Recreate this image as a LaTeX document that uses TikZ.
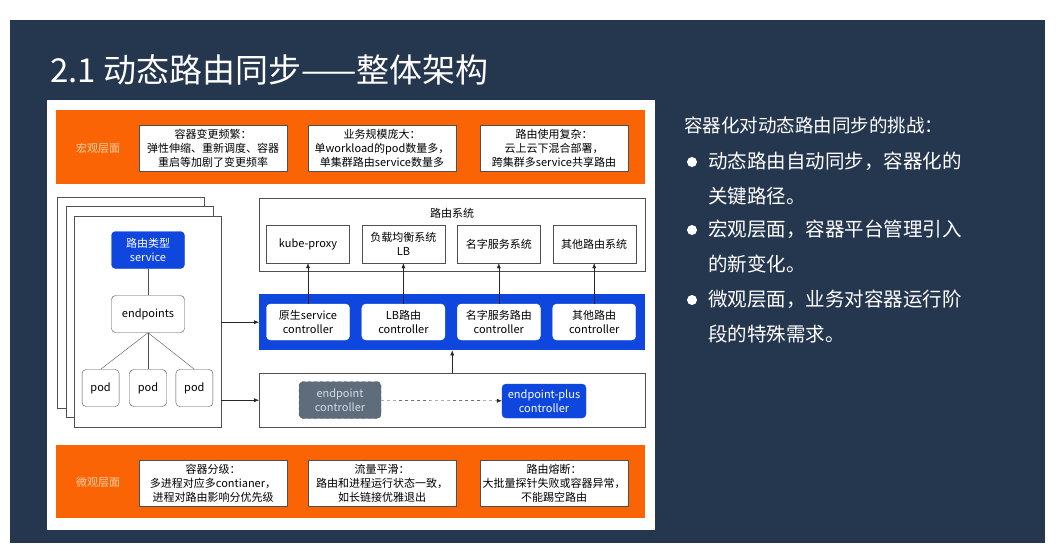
\documentclass[tikz,border=0pt]{standalone}
\usepackage{fontspec}
\setmainfont{Noto Sans CJK SC}
\usepackage{xcolor}
\definecolor{cNavy}{HTML}{25364F}
\definecolor{cOrange}{HTML}{FA6405}
\definecolor{cPeach}{HTML}{FFD2A8}
\definecolor{cBlue}{HTML}{0F46DE}
\definecolor{cGray}{HTML}{5F6C7B}
\definecolor{cGrayDark}{HTML}{48525E}
\definecolor{cGrayText}{HTML}{D5DCE4}
\definecolor{cLine}{HTML}{505050}
\usepackage{tikz}
\usetikzlibrary{positioning,arrows.meta,calc}
\tikzset{
  node-box/.style={draw=cLine,fill=white,align=center,inner sep=1pt,
    font=\fontsize{11}{14}\selectfont},
  node-round/.style={node-box,rounded corners=4pt},
  node-blue/.style={node-box,draw=cBlue,fill=cBlue,text=white,rounded corners=4pt},
  node-dash/.style={node-box,draw=cGrayDark,fill=cGray,text=cGrayText,dashed,
    rounded corners=4pt},
  node-layer/.style={fill=cOrange,anchor=north west,minimum width=589,
    minimum height=74,inner sep=0pt},
  node-frame/.style={draw=cLine,fill=white,anchor=north west,minimum width=386,
    inner sep=0pt},
  node-card/.style={draw=cLine,fill=white,anchor=north west,minimum width=147,
    minimum height=211,inner sep=0pt},
  layer-label/.style={text=cPeach,font=\fontsize{11}{14}\selectfont},
  bullet/.style={circle,fill=white,inner sep=0pt,minimum size=10},
  side-text/.style={text=white,anchor=west,align=left,inner sep=0pt,
    font=\fontsize{19.5}{35}\selectfont},
  link/.style={draw=cLine,thin},
  arrow/.style={-{Latex[length=5pt,width=4pt]},draw=black!85,thin},
  arrow-async/.style={arrow,dashed},
}

\begin{document}
\begin{tikzpicture}[x=1pt,y=-1pt]
  \useasboundingbox (0,0) rectangle (1062,550);
  \fill[white] (0,0) rectangle (1062,550);
  \fill[cNavy] (10,20) rectangle (1045,543);

  % title
  \node[text=white,anchor=west,inner sep=0pt,font=\fontsize{33}{38}\selectfont]
    (title) at (50,70) {2.1 动态路由同步——整体架构};

  % diagram panel
  \node[fill=white,anchor=north west,minimum width=608,minimum height=430,
    inner sep=0pt] (panel) at (47,100) {};

  % macro layer
  \node[node-layer] (macro) at (56,110) {};
  \node[layer-label] (macrolbl) at (98,148) {宏观层面};
  \node[node-box,minimum width=148,minimum height=46] (chg) at (213,148)
    {容器变更频繁：\\弹性伸缩、重新调度、容器\\重启等加剧了变更频率};
  \node[node-box,minimum width=148,minimum height=46] (scale) at (382,148)
    {业务规模庞大：\\单workload的pod数量多，\\单集群路由service数量多};
  \node[node-box,minimum width=148,minimum height=46] (cplx) at (554,148)
    {路由使用复杂：\\云上云下混合部署，\\跨集群多service共享路由};

  % workload cards
  \node[node-card] (card3) at (57,197) {};
  \node[node-card] (card2) at (66,206) {};
  \node[node-card] (card1) at (74,216) {};
  \node[node-blue,minimum width=73,minimum height=37] (svc) at (148,250)
    {路由类型\\service};
  \node[node-round,minimum width=73,minimum height=37] (ep) at (148,314)
    {endpoints};
  \node[node-round,minimum width=37,minimum height=37] (pod2) at (148,388) {pod};
  \node[node-round,minimum width=37,minimum height=37,left=10 of pod2] (pod1) {pod};
  \node[node-round,minimum width=37,minimum height=37,right=9 of pod2] (pod3) {pod};
  \draw[link] (svc) -- (ep);
  \draw[link] (ep.south) -- (pod1.north);
  \draw[link] (ep.south) -- (pod2.north);
  \draw[link] (ep.south) -- (pod3.north);

  % routing systems
  \node[node-frame,minimum height=73] (rsys) at (259,198) {};
  \node[font=\fontsize{11}{14}\selectfont] (rsyslbl) at (452,213) {路由系统};
  \node[node-box,minimum width=83,minimum height=38] (sys1) at (308,244) {kube-proxy};
  \node[node-box,minimum width=83,minimum height=38,right=12 of sys1] (sys2)
    {负载均衡系统\\LB};
  \node[node-box,minimum width=83,minimum height=38,right=12 of sys2] (sys3)
    {名字服务系统};
  \node[node-box,minimum width=83,minimum height=38,right=12 of sys3] (sys4)
    {其他路由系统};

  % controllers
  \node[fill=cBlue,anchor=north west,minimum width=386,minimum height=56,
    inner sep=0pt] (band) at (259,294) {};
  \node[node-round,draw=white,minimum width=83,minimum height=36] (ctl1) at (308,322)
    {原生service\\controller};
  \node[node-round,draw=white,minimum width=83,minimum height=36,right=12 of ctl1]
    (ctl2) {LB路由\\controller};
  \node[node-round,draw=white,minimum width=83,minimum height=36,right=12 of ctl2]
    (ctl3) {名字服务路由\\controller};
  \node[node-round,draw=white,minimum width=83,minimum height=36,right=12 of ctl3]
    (ctl4) {其他路由\\controller};
  \draw[arrow] (ctl1) -- (sys1);
  \draw[arrow] (ctl2) -- (sys2);
  \draw[arrow] (ctl3) -- (sys3);
  \draw[arrow] (ctl4) -- (sys4);

  % endpoint controllers
  \node[node-frame,minimum height=54] (ctlbox) at (259,373) {};
  \node[node-dash,minimum width=82,minimum height=37] (epc) at (340,400)
    {endpoint\\controller};
  \node[node-blue,minimum width=84,minimum height=34] (epp) at (544,401)
    {endpoint-plus\\controller};
  \draw[arrow-async] (epc) -- (epp);
  \draw[arrow] (ctlbox) -- (band);
  \draw[arrow] (card1.east |- band.west) -- (band.west);
  \draw[arrow] (card1.east |- ctlbox.west) -- (ctlbox.west);

  % micro layer
  \node[node-layer,minimum height=73] (micro) at (56,445) {};
  \node[layer-label] (microlbl) at (98,482) {微观层面};
  \node[node-box,minimum width=148,minimum height=46] (grade) at (213,483)
    {容器分级：\\多进程对应多contianer，\\进程对路由影响分优先级};
  \node[node-box,minimum width=148,minimum height=46] (smooth) at (382,483)
    {流量平滑：\\路由和进程运行状态一致，\\如长链接优雅退出};
  \node[node-box,minimum width=148,minimum height=46] (fuse) at (554,483)
    {路由熔断：\\大批量探针失败或容器异常，\\不能踢空路由};

  % challenges
  \node[text=white,anchor=west,inner sep=0pt,font=\fontsize{18.5}{22}\selectfont]
    (head) at (684,125) {容器化对动态路由同步的挑战：};
  \node[bullet] (b1) at (692,162) {};
  \node[bullet] (b2) at (692,230) {};
  \node[bullet] (b3) at (692,300) {};
  \node[side-text] (t1) at (708,179) {动态路由自动同步，容器化的\\关键路径。};
  \node[side-text] (t2) at (708,247) {宏观层面，容器平台管理引入\\的新变化。};
  \node[side-text] (t3) at (708,317) {微观层面，业务对容器运行阶\\段的特殊需求。};
\end{tikzpicture}
\end{document}
